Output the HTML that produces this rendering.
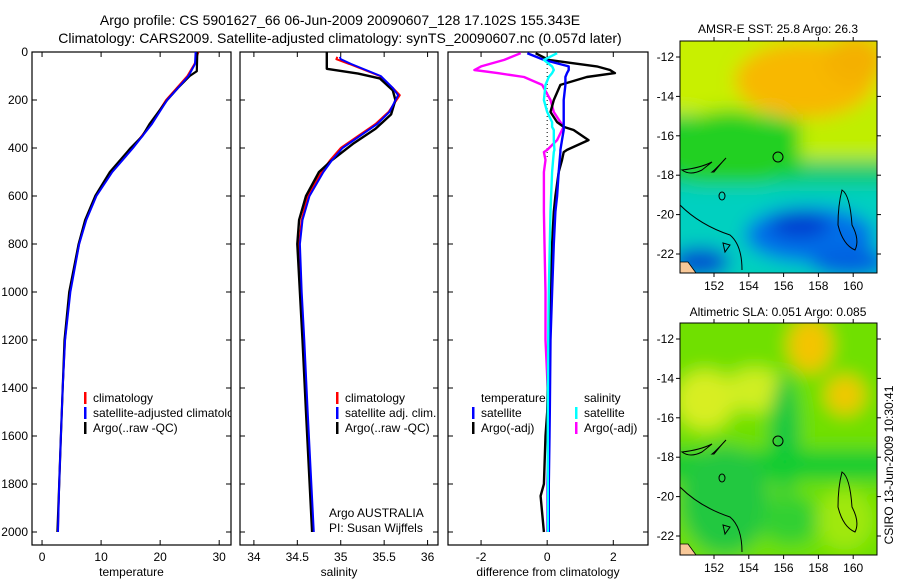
<!DOCTYPE html>
<html><head><meta charset="utf-8"><style>
body{margin:0;background:#fff;}
svg{display:block;font-family:"Liberation Sans",sans-serif;font-size:12px;}
</style></head><body>
<svg id="fig" width="900" height="580" viewBox="0 0 900 580">
<defs>
<filter id="bl" x="-20%" y="-20%" width="140%" height="140%"><feGaussianBlur stdDeviation="9"/></filter>
<clipPath id="c1"><rect x="680" y="41" width="197" height="232"/></clipPath>
<clipPath id="c2"><rect x="680" y="323" width="197" height="232"/></clipPath>
</defs>
<text x="340" y="25" text-anchor="middle" font-size="14">Argo profile: CS 5901627_66 06-Jun-2009 20090607_128 17.102S 155.343E</text>
<text x="340" y="43" text-anchor="middle" font-size="14">Climatology: CARS2009. Satellite-adjusted climatology: synTS_20090607.nc (0.057d later)</text>

<g>
<g clip-path="url(#c1)"><g filter="url(#bl)">
<rect x="660" y="20" width="240" height="280" fill="#18cc70"/>
<rect x="660" y="20" width="240" height="95" fill="#c8f000"/>
<rect x="780" y="100" width="120" height="60" fill="#c0ee00"/>
<ellipse cx="805" cy="80" rx="70" ry="38" fill="#f8b800"/>
<ellipse cx="855" cy="60" rx="30" ry="25" fill="#f4b000"/>
<rect x="660" y="120" width="140" height="55" fill="#10d020"/>
<ellipse cx="730" cy="150" rx="60" ry="40" fill="#20d020"/>
<rect x="660" y="185" width="240" height="100" fill="#00d0c0"/>
<ellipse cx="810" cy="235" rx="65" ry="28" fill="#0070e8"/>
<ellipse cx="800" cy="225" rx="30" ry="14" fill="#0040d0"/>
<ellipse cx="850" cy="262" rx="40" ry="15" fill="#0060e0"/>
<ellipse cx="700" cy="262" rx="30" ry="15" fill="#0050d0"/>
</g>
<path d="M680,262 L688,262 L696,273 L680,273Z" fill="#f8c898" stroke="#000" stroke-width="0.8"/>
<g fill="none" stroke="#000" stroke-width="1">
<path d="M680,205 Q700,225 730,235 Q742,245 742,270"/>
<path d="M682,170 Q700,168 712,162 L702,170 Q690,176 682,170Z"/>
<path d="M714,172 Q722,162 726,158 Q715,170 712,172Z"/>
<path d="M842,190 Q838,205 838,225 Q843,245 855,250 Q860,240 852,225 Q850,195 842,190Z"/>
<path d="M723,243 L730,245 L725,252Z"/>
<ellipse cx="722" cy="196" rx="3" ry="4"/>
<circle cx="778" cy="157" r="5"/>
</g></g>
<rect x="680" y="41" width="197" height="232" fill="none" stroke="#000"/>
<text x="778" y="33" text-anchor="middle">AMSR-E SST: 25.8 Argo: 26.3</text>
</g>

<g>
<g clip-path="url(#c2)"><g filter="url(#bl)">
<rect x="660" y="300" width="240" height="280" fill="#70e000"/>
<ellipse cx="705" cy="400" rx="30" ry="30" fill="#d8ee20"/>
<ellipse cx="755" cy="390" rx="30" ry="22" fill="#d0ee20"/>
<ellipse cx="810" cy="345" rx="22" ry="28" fill="#f4c400"/>
<ellipse cx="845" cy="395" rx="20" ry="20" fill="#f0c800"/>
<ellipse cx="785" cy="435" rx="15" ry="60" fill="#10c840"/>
<rect x="660" y="450" width="240" height="30" fill="#10cc30"/>
<ellipse cx="725" cy="500" rx="45" ry="55" fill="#20c840"/>
<ellipse cx="790" cy="520" rx="30" ry="25" fill="#30d030"/>
<ellipse cx="845" cy="520" rx="28" ry="30" fill="#a0e810"/>
</g>
<path d="M680,544 L688,544 L696,555 L680,555Z" fill="#f8c898" stroke="#000" stroke-width="0.8"/>
<g fill="none" stroke="#000" stroke-width="1">
<path d="M680,487 Q700,507 730,517 Q742,527 742,552"/>
<path d="M682,452 Q700,450 712,444 L702,452 Q690,458 682,452Z"/>
<path d="M714,454 Q722,444 726,440 Q715,452 712,454Z"/>
<path d="M842,472 Q838,487 838,507 Q843,527 855,532 Q860,522 852,507 Q850,477 842,472Z"/>
<path d="M723,525 L730,527 L725,534Z"/>
<ellipse cx="722" cy="478" rx="3" ry="4"/>
<circle cx="778" cy="441" r="5"/>
</g></g>
<rect x="680" y="323" width="197" height="232" fill="none" stroke="#000"/>
<text x="778" y="316" text-anchor="middle">Altimetric SLA: 0.051 Argo: 0.085</text>
</g>
<text transform="translate(893,465) rotate(-90)" text-anchor="middle">CSIRO 13-Jun-2009 10:30:41</text>
</svg>
<script>
// ---- data ----
const depthTicks=[0,200,400,600,800,1000,1200,1400,1600,1800,2000];
const tTicks=[0,10,20,30];
const sTicks=[34,34.5,35,35.5,36];
const dTicks=[-2,0,2];
const tDepthArgo=[0,80,100,150,200,300,350,400,500,600,700,800,1000,1200,1400,1600,1800,2000];
const tArgo=[26.3,26.2,25,23,21.2,18.2,17,15,11.5,9,7.3,6.2,4.6,3.8,3.5,3.2,2.9,2.6];
const tDepthClim=[0,50,100,150,200,300,400,500,600,700,800,1000,1200,1400,1600,1800,2000];
const tClim=[26.5,25.8,24.6,22.8,21,18.4,15.3,11.8,9.1,7.4,6.3,4.7,3.9,3.5,3.2,2.9,2.7];
const tSat=[26,25.9,24.8,23,21.2,18.6,15.4,11.9,9.2,7.5,6.3,4.8,3.9,3.5,3.2,2.9,2.7];
const sDepthArgo=[0,70,90,110,160,200,260,320,380,450,500,600,700,800,1000,1200,1500,2000];
const sArgo=[34.84,34.84,35.2,35.45,35.6,35.63,35.58,35.4,35.15,34.9,34.75,34.6,34.52,34.5,34.53,34.56,34.6,34.67];
const sDepthClim=[20,30,50,100,150,180,250,300,350,400,450,500,600,700,800,1000,1200,1500,2000];
const sClim=[34.96,34.95,35.1,35.45,35.6,35.68,35.55,35.4,35.2,35.0,34.88,34.78,34.62,34.55,34.52,34.54,34.57,34.61,34.68];
const sSat=[34.99,35.0,35.12,35.46,35.6,35.66,35.56,35.42,35.22,35.02,34.9,34.8,34.64,34.56,34.53,34.55,34.58,34.62,34.69];
const dDepth=[5,33,60,75,88,104,137,200,250,292,312,325,367,408,417,450,500,600,665,800,1000,1200,1500,1600,1800,1850,2000];
const dTempSat=[-0.6,-0.1,0.65,0.65,0.6,0.55,0.55,0.5,0.5,0.5,0.5,0.5,0.45,0.4,0.4,0.38,0.35,0.3,0.25,0.2,0.15,0.1,0.08,0.07,0.05,0.05,0.05];
const dTempArgo=[-0.35,0.05,1.5,1.9,2.05,1.2,0.4,0.2,0.1,0.3,0.5,0.8,1.25,0.6,0.5,0.45,0.35,0.25,0.2,0.15,0.1,0.05,0.0,-0.05,-0.1,-0.2,-0.1];
const dSalSat=[0.3,-0.1,0.15,0.2,0.15,0.05,-0.05,-0.1,0.0,0.15,0.15,0.2,0.2,0.22,0.2,0.18,0.15,0.12,0.1,0.08,0.05,0.03,0.02,0.02,0.02,0.02,0.02];
const dSalArgo=[-0.8,-1.3,-2.0,-2.2,-1.5,-0.7,-0.15,0.1,0.2,0.4,0.5,0.45,0.3,0.0,-0.1,-0.05,-0.1,-0.1,-0.1,-0.08,-0.05,-0.05,0.05,0.05,0.0,0.0,0.0];

const NS='http://www.w3.org/2000/svg';
const svg=document.getElementById('fig');
const yD=d=>52+d*0.24;
function mk(tag,attrs,parent,txt){const e=document.createElementNS(NS,tag);for(const k in attrs)e.setAttribute(k,attrs[k]);if(txt!==undefined)e.textContent=txt;(parent||svg).appendChild(e);return e;}
function panel(name,x0,x1,xmin,xmax,ticks,xlabel,showY){
  const g=mk('g',{});
  
  
  const sx=v=>x0+(v-xmin)/(xmax-xmin)*(x1-x0);
  mk('rect',{x:x0,y:52,width:x1-x0,height:493,fill:'none',stroke:'#000','stroke-width':1.2},g);
  ticks.forEach(t=>{const x=sx(t);
    mk('line',{x1:x,x2:x,y1:52,y2:57,stroke:'#000'},g);
    mk('line',{x1:x,x2:x,y1:545,y2:540,stroke:'#000'},g);
    const tl=mk('text',{x:x,y:561,'text-anchor':'middle'},g,String(t));
    
    
  });
  depthTicks.forEach(d=>{const y=yD(d);
    mk('line',{x1:x0,x2:x0+5,y1:y,y2:y,stroke:'#000'},g);
    mk('line',{x1:x1,x2:x1-5,y1:y,y2:y,stroke:'#000'},g);
    if(showY){const tl=mk('text',{x:28,y:y+4,'text-anchor':'end'},g,String(d));
      
      }
  });
  const xl=mk('text',{x:(x0+x1)/2,y:576,'text-anchor':'middle'},g,xlabel);
  
  
  return {g,sx};
}
function line(p,depths,vals,color,w,name){
  const pts=vals.map((v,i)=>p.sx(v).toFixed(1)+','+yD(depths[i]).toFixed(1)).join(' ');
  const l=mk('polyline',{points:pts,fill:'none',stroke:color,'stroke-width':w,'stroke-linejoin':'round'},p.g);
  
  
}
function legend(p,x,y,color,label,name){
  if(color) mk('rect',{x:x-9,y:y-10,width:2.5,height:12,fill:color},p.g);
  const t=mk('text',{x:x,y:y},p.g,label);
  
  
}
const p1=panel('temperature-panel',32,231,-1.7,32,tTicks,'temperature',true);
line(p1,tDepthClim,tClim,'#f00',1.8,'temp-climatology-line');
line(p1,tDepthArgo,tArgo,'#000',2.2,'temp-argo-line');
line(p1,tDepthClim,tSat,'#00f',2,'temp-satellite-line');
const lg1=mk('svg',{x:0,y:0,width:231,height:580,overflow:'hidden'},p1.g);
const lp1={g:lg1};
legend(lp1,93,402,'#f00','climatology','legend-climatology');
legend(lp1,93,417,'#00f','satellite-adjusted climatology','legend-satellite-adjusted');
legend(lp1,93,432,'#000','Argo(..raw -QC)','legend-argo');
const p2=panel('salinity-panel',240,438,33.84,36.12,sTicks,'salinity',false);
line(p2,sDepthClim,sClim,'#f00',2,'sal-climatology-line');
line(p2,sDepthArgo,sArgo,'#000',2.4,'sal-argo-line');
line(p2,sDepthClim,sSat,'#00f',2,'sal-satellite-line');
legend(p2,345,402,'#f00','climatology','legend-climatology');
legend(p2,345,417,'#00f','satellite adj. clim.','legend-satellite-adj');
legend(p2,345,432,'#000','Argo(..raw -QC)','legend-argo');
legend(p2,329,517,null,'Argo AUSTRALIA','argo-australia-note');
legend(p2,329,532,null,'PI: Susan Wijffels','pi-note');
const p3=panel('difference-panel',448,648,-3.0,3.05,dTicks,'difference from climatology',false);
mk('line',{x1:p3.sx(0),x2:p3.sx(0),y1:52,y2:yD(450),stroke:'#000','stroke-dasharray':'1,3'},p3.g);
line(p3,dDepth,dSalArgo,'#f0f',2.4,'diff-sal-argo-line');
line(p3,dDepth,dTempArgo,'#000',2.4,'diff-temp-argo-line');
line(p3,dDepth,dTempSat,'#00f',2.4,'diff-temp-sat-line');
line(p3,dDepth,dSalSat,'#0ff',2.4,'diff-sal-sat-line');
legend(p3,481,402,null,'temperature','legend-temperature-header');
legend(p3,481,417,'#00f','satellite','legend-temp-satellite');
legend(p3,481,432,'#000','Argo(-adj)','legend-temp-argo');
legend(p3,584,402,null,'salinity','legend-salinity-header');
legend(p3,584,417,'#0ff','satellite','legend-sal-satellite');
legend(p3,584,432,'#f0f','Argo(-adj)','legend-sal-argo');
function mapAxes(y0,y1,name){
  const g=mk('g',{});
  
  
  [152,154,156,158,160].forEach(l=>{const x=714+(l-152)*17.4;
    mk('line',{x1:x,x2:x,y1:y0,y2:y0-4,stroke:'#000'},g);
    mk('line',{x1:x,x2:x,y1:y1,y2:y1+4,stroke:'#000'},g);
    mk('text',{x:x,y:y1+17,'text-anchor':'middle'},g,String(l));});
  [-12,-14,-16,-18,-20,-22].forEach((l,i)=>{const y=y0+16+i*39.4;
    mk('line',{x1:680,x2:676,y1:y,y2:y,stroke:'#000'},g);
    mk('line',{x1:877,x2:881,y1:y,y2:y,stroke:'#000'},g);
    mk('text',{x:674,y:y+4,'text-anchor':'end'},g,String(l));});
}
mapAxes(41,273,'sst-map-axes');
mapAxes(323,555,'sla-map-axes');
</script>
</body></html>
